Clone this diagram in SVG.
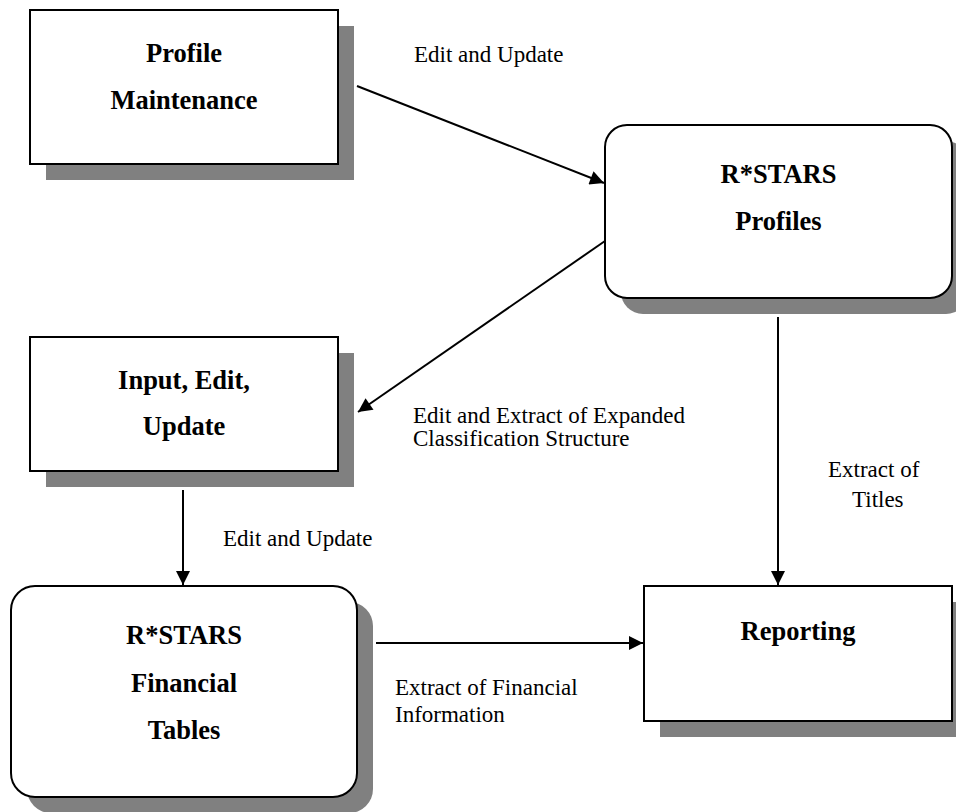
<svg xmlns="http://www.w3.org/2000/svg" width="956" height="812" viewBox="0 0 956 812">
<style>
.shadow{fill:#808080;stroke:none}
.box{fill:#ffffff;stroke:#000000;stroke-width:2}
.title{font-family:"Liberation Serif","Times New Roman",serif;font-weight:bold;font-size:26.5px;fill:#000;text-anchor:middle}
.label{font-family:"Liberation Serif","Times New Roman",serif;font-size:23px;fill:#000}
.conn{stroke:#000;stroke-width:2;fill:none;marker-end:url(#arrow)}
</style>
<defs>
<marker id="arrow" viewBox="0 0 10 10" refX="10" refY="5" markerWidth="8" markerHeight="7" markerUnits="strokeWidth" orient="auto">
<path d="M0,0 L10,5 L0,10 Z" fill="#000"/>
</marker>
</defs>
<rect width="956" height="812" fill="#ffffff"/>

<g id="profile-maintenance">
<rect class="shadow" x="46" y="26" width="308" height="154"/>
<rect class="box" x="30" y="10" width="308" height="154"/>
<text class="title" x="184" y="62">Profile</text>
<text class="title" x="184" y="109">Maintenance</text>
</g>

<g id="rstars-profiles">
<rect class="shadow" x="621" y="141" width="347" height="173" rx="22" ry="22"/>
<rect class="box" x="605" y="125" width="347" height="173" rx="22" ry="22"/>
<text class="title" x="778.5" y="183">R*STARS</text>
<text class="title" x="778.5" y="230">Profiles</text>
</g>

<g id="input-edit-update">
<rect class="shadow" x="46" y="353" width="308" height="134"/>
<rect class="box" x="30" y="337" width="308" height="134"/>
<text class="title" x="184" y="389">Input, Edit,</text>
<text class="title" x="184" y="435">Update</text>
</g>

<g id="rstars-financial-tables">
<rect class="shadow" x="27" y="602" width="346" height="211" rx="24" ry="24"/>
<rect class="box" x="11" y="586" width="346" height="211" rx="24" ry="24"/>
<text class="title" x="184" y="644">R*STARS</text>
<text class="title" x="184" y="692">Financial</text>
<text class="title" x="184" y="739">Tables</text>
</g>

<g id="reporting">
<rect class="shadow" x="660" y="602" width="308" height="135"/>
<rect class="box" x="644" y="586" width="308" height="135"/>
<text class="title" x="798" y="640">Reporting</text>
</g>

<g id="connectors">
<line class="conn" x1="357" y1="86" x2="604" y2="183"/>
<line class="conn" x1="605" y1="241" x2="358" y2="412"/>
<line class="conn" x1="183" y1="490" x2="183" y2="585"/>
<line class="conn" x1="376" y1="643" x2="643" y2="643"/>
<line class="conn" x1="778" y1="317" x2="778" y2="585"/>
</g>

<g id="labels">
<text class="label" x="414" y="62">Edit and Update</text>
<text class="label" x="413" y="423">Edit and Extract of Expanded</text>
<text class="label" x="413" y="446">Classification Structure</text>
<text class="label" x="223" y="546">Edit and Update</text>
<text class="label" x="828" y="477">Extract of</text>
<text class="label" x="852" y="507">Titles</text>
<text class="label" x="395" y="695">Extract of Financial</text>
<text class="label" x="395" y="722">Information</text>
</g>
</svg>
